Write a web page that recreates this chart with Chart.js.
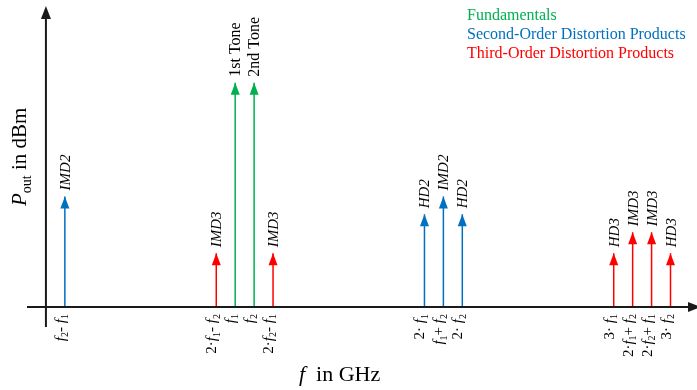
<!DOCTYPE html>
<html>
<head>
<meta charset="utf-8">
<script src="https://cdn.jsdelivr.net/npm/chart.js@4.4.1/dist/chart.umd.min.js"></script>
<style>
  html, body { margin: 0; padding: 0; background: #fff; }
  #wrap { width: 697px; height: 390px; }
</style>
</head>
<body>
<div id="wrap"><canvas id="spectrum"></canvas></div>
<script>
// Frequencies in units of the tone spacing (f1 = 10, f2 = 11)
const fundamentalFreqs = [10, 11];
const fundamentalLevels = [75, 75];
const fundamentalNames = ['1st Tone', '2nd Tone'];

const secondFreqs = [1, 20, 21, 22];
const secondLevels = [37, 31, 37, 31];
const secondNames = ['IMD2', 'HD2', 'IMD2', 'HD2'];

const thirdFreqs = [9, 12, 30, 31, 32, 33];
const thirdLevels = [18, 18, 18, 25, 25, 18];
const thirdNames = ['IMD3', 'IMD3', 'HD3', 'IMD3', 'IMD3', 'HD3'];

// tick labels below the axis ("f" italic, "_x" subscript)
const tickFreqs = [1, 9, 10, 11, 12, 20, 21, 22, 30, 31, 32, 33];
const tickLabels = ['f_2- f_1', '2·f_1- f_2', 'f_1', 'f_2', '2·f_2- f_1', '2· f_1', 'f_1+ f_2', '2· f_2',
                    '3· f_1', '2·f_1+ f_2', '2·f_2+ f_1', '3· f_2'];

const legendNames = ['Fundamentals', 'Second-Order Distortion Products', 'Third-Order Distortion Products'];

const GREEN = '#00b050';
const BLUE = '#0070c0';
const RED = '#ff0000';
const SERIF = '"Liberation Serif", "Times New Roman", serif';

// stems: baseline -> level, separated by gaps
function stems(freqs, levels) {
  const pts = [];
  freqs.forEach((f, i) => {
    pts.push({ x: f, y: 0 }, { x: f, y: levels[i] }, { x: f, y: null });
  });
  return pts;
}

// parse 'f_1' style strings into runs
function parseRich(str) {
  const runs = [];
  for (let i = 0; i < str.length; i++) {
    const c = str[i];
    if (c === '_') {
      runs.push({ t: str[i + 1], sub: true, it: false });
      i++;
    } else if (c === 'f') {
      runs.push({ t: c, sub: false, it: true });
    } else {
      runs.push({ t: c, sub: false, it: false });
    }
  }
  return runs;
}

function runFont(r, size) {
  const s = r.sub ? Math.round(size * 0.68) : size;
  return (r.it ? 'italic ' : '') + s + 'px ' + SERIF;
}

// draw runs along current x axis of ctx, baseline at y=0
function drawRuns(ctx, runs, align, size) {
  let total = 0;
  runs.forEach(r => { ctx.font = runFont(r, size); r.w = ctx.measureText(r.t).width; total += r.w; });
  let x = align === 'right' ? -total : 0;
  ctx.textAlign = 'left';
  ctx.textBaseline = 'alphabetic';
  runs.forEach(r => {
    ctx.font = runFont(r, size);
    ctx.fillText(r.t, x, r.sub ? size * 0.22 : 0);
    x += r.w;
  });
}

const arrowPlugin = {
  id: 'arrowPlugin',
  afterDatasetsDraw(chart) {
    const ctx = chart.ctx;
    const xs = chart.scales.x;
    const ys = chart.scales.y;
    const area = chart.chartArea;
    const x0 = xs.getPixelForValue(0);
    const y0 = ys.getPixelForValue(0);

    ctx.save();
    // axes
    ctx.strokeStyle = '#1a1a1a';
    ctx.fillStyle = '#1a1a1a';
    ctx.lineWidth = 2;
    ctx.beginPath();
    ctx.moveTo(area.left, y0);
    ctx.lineTo(area.right - 8, y0);
    ctx.moveTo(x0, area.bottom);
    ctx.lineTo(x0, area.top + 8);
    ctx.stroke();
    ctx.beginPath();
    ctx.moveTo(x0, area.top - 2);
    ctx.lineTo(x0 - 5, area.top + 11);
    ctx.lineTo(x0 + 5, area.top + 11);
    ctx.closePath();
    ctx.fill();
    ctx.beginPath();
    ctx.moveTo(area.right + 4, y0);
    ctx.lineTo(area.right - 9, y0 - 5);
    ctx.lineTo(area.right - 9, y0 + 5);
    ctx.closePath();
    ctx.fill();

    // arrow heads and labels
    const groups = [
      { ds: 0, names: fundamentalNames, italic: false, size: 16 },
      { ds: 1, names: secondNames, italic: true, size: 15 },
      { ds: 2, names: thirdNames, italic: true, size: 15 }
    ];
    groups.forEach(g => {
      const meta = chart.getDatasetMeta(g.ds);
      const color = chart.data.datasets[g.ds].borderColor;
      g.names.forEach((name, i) => {
        const pt = meta.data[i * 3 + 1];
        ctx.fillStyle = color;
        ctx.beginPath();
        ctx.moveTo(pt.x, pt.y);
        ctx.lineTo(pt.x - 4.5, pt.y + 12);
        ctx.lineTo(pt.x + 4.5, pt.y + 12);
        ctx.closePath();
        ctx.fill();

        ctx.save();
        ctx.translate(pt.x, pt.y - 6);
        ctx.rotate(-Math.PI / 2);
        ctx.fillStyle = '#000';
        ctx.font = (g.italic ? 'italic ' : '') + g.size + 'px ' + SERIF;
        ctx.textAlign = 'left';
        ctx.textBaseline = 'alphabetic';
        ctx.fillText(name, 0, 5);
        ctx.restore();
      });
    });

    // tick labels under the axis
    ctx.fillStyle = '#000';
    tickFreqs.forEach((f, i) => {
      ctx.save();
      ctx.translate(xs.getPixelForValue(f), y0 + 7);
      ctx.rotate(-Math.PI / 2);
      drawRuns(ctx, parseRich(tickLabels[i]), 'right', 15);
      ctx.restore();
    });

    // axis titles
    ctx.save();
    ctx.translate(26, 206);
    ctx.rotate(-Math.PI / 2);
    drawRuns(ctx, [{ t: 'P', it: true, sub: false }, { t: 'out', it: false, sub: true },
                   { t: ' in dBm', it: false, sub: false }], 'left', 21);
    ctx.restore();

    ctx.save();
    ctx.translate(299, 381);
    drawRuns(ctx, [{ t: 'f', it: true, sub: false }, { t: '  in GHz', it: false, sub: false }], 'left', 22);
    ctx.restore();

    // legend text
    const legendColors = [GREEN, BLUE, RED];
    ctx.font = '16px ' + SERIF;
    ctx.textAlign = 'left';
    ctx.textBaseline = 'alphabetic';
    legendNames.forEach((n, i) => {
      ctx.fillStyle = legendColors[i];
      ctx.fillText(n, 467, 20 + i * 19);
    });
    ctx.restore();
  }
};

new Chart(document.getElementById('spectrum').getContext('2d'), {
  type: 'scatter',
  data: {
    datasets: [
      { label: legendNames[0], data: stems(fundamentalFreqs, fundamentalLevels), borderColor: GREEN },
      { label: legendNames[1], data: stems(secondFreqs, secondLevels), borderColor: BLUE },
      { label: legendNames[2], data: stems(thirdFreqs, thirdLevels), borderColor: RED }
    ].map(d => Object.assign(d, { showLine: true, spanGaps: false, borderWidth: 1.5, pointRadius: 0, pointHoverRadius: 0 }))
  },
  options: {
    responsive: true,
    maintainAspectRatio: false,
    animation: false,
    events: [],
    layout: { padding: { left: 27, right: 0, top: 8, bottom: 63 } },
    plugins: { legend: { display: false }, tooltip: { enabled: false } },
    scales: {
      x: { type: 'linear', display: false, min: -1, max: 34.4 },
      y: { type: 'linear', display: false, min: -6.67, max: 100 }
    }
  },
  plugins: [arrowPlugin]
});
</script>
</body>
</html>
